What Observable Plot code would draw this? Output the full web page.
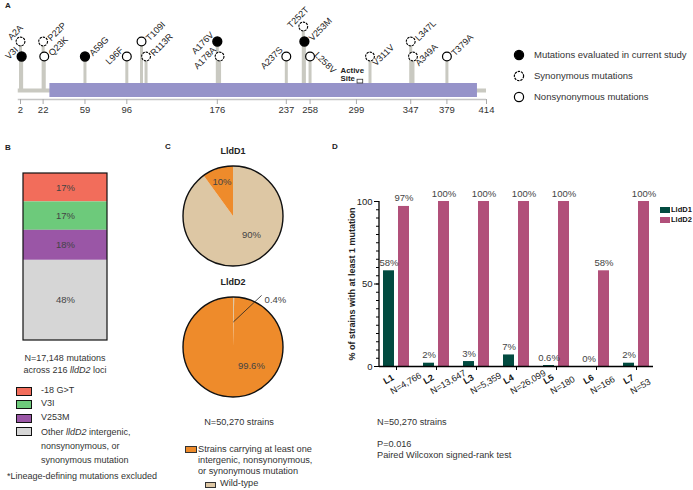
<!DOCTYPE html>
<html><head><meta charset="utf-8">
<script src="https://cdn.jsdelivr.net/npm/d3@7"></script>
<script src="https://cdn.jsdelivr.net/npm/@observablehq/plot@0.6"></script>
<style>
body{margin:0;background:#fff;}
#fig{position:relative;width:693px;height:490px;font-family:"Liberation Sans",Arial,sans-serif;color:#222;overflow:hidden;background:#fff;}
.layer{position:absolute;}
.t{position:absolute;white-space:nowrap;font-size:9px;line-height:1.25;}
</style></head><body><div id="fig"></div>
<script>
// ---------- Panel A data ----------
const mutLabels = ["A2A","V3I","P22P","Q23K","A59G","L96F","T109I","R113R","A176V","A178A","A237S","T252T","V253M","L258V","V311V","L347L","A349A","T379A"];
const mutPositions = [2,3,22,23,59,96,109,113,176,178,237,252,253,258,311,347,349,379];
const mutLevels = [2,1,2,1,1,1,2,1,2,1,1,3,2,1,1,2,1,1];
const mutTypes = ["syn","eval","syn","nonsyn","eval","nonsyn","nonsyn","syn","eval","syn","nonsyn","syn","eval","nonsyn","syn","syn","syn","nonsyn"];
const mutLabelSides = ["above","left","right","right","right","left","right","right","left","left","left","above","right","below","rightLow","right","rightLow","right"];
const axisTicksA = [2,22,59,96,176,237,258,299,347,379,414];
const proteinLength = 414;
const domainStart = 28, domainEnd = 406;
const activeSite = 302;
const legendALabels = ["Mutations evaluated in current study","Synonymous mutations","Nonsynonymous mutations"];

// ---------- Panel B data ----------
const bCategories = ["-18 G>T","V3I","V253M","Other"];
const bPercents = [17,17,18,48];

// ---------- Panel C data ----------
const pieGenes = ["LldD1","LldD2"];
const pieWildType = [90, 0.4];
const pieMutated = [10, 99.6];

// ---------- Panel D data ----------
const lineages = ["L1","L2","L3","L4","L5","L6","L7"];
const lineageN = [4766,13647,5359,26099,180,166,53];
const lldD1Pct = [58,2,3,7,0.6,0,2];
const lldD2Pct = [97,100,100,100,100,58,100];

// ---------- styles ----------
const FONT = '"Liberation Sans", Arial, sans-serif';
const bColors = ["#f26d5b","#6dca7b","#9a56a6","#d6d6d6"];
const pieColors = {wt:"#ddc7a4", mut:"#ee8b2b"};
const dColors = {LldD1:"#024b40", LldD2:"#b1507a"};
const stemColor = "#c9c9c1";

const fig = document.getElementById("fig");
function place(node, x, y){ const d=document.createElement("div"); d.className="layer"; d.style.left=x+"px"; d.style.top=y+"px"; d.appendChild(node); fig.appendChild(d); return d; }
function txt(x, y, html, o={}){
  const d=document.createElement("div"); d.className="t"; d.innerHTML=html;
  d.style.left=x+"px"; d.style.top=y+"px";
  const ax = o.align==="center"?"-50%":o.align==="right"?"-100%":"0";
  d.style.transform=`translate(${ax},-50%)`;
  if(o.size) d.style.fontSize=o.size+"px";
  if(o.bold) d.style.fontWeight="bold";
  if(o.color) d.style.color=o.color;
  if(o.align==="center") d.style.textAlign="center";
  fig.appendChild(d); return d;
}
const baseStyle = {fontFamily:FONT, fontSize:"9px", background:"transparent", overflow:"visible", color:"#222"};
const svgns = "http://www.w3.org/2000/svg";

// ================= Panel D =================
const dData = lineages.map((lin,i)=>({lin, n:lineageN[i], d1:lldD1Pct[i], d2:lldD2Pct[i]}));
const plotD = Plot.plot({
  width:693, height:490, marginLeft:379, marginRight:40, marginTop:201, marginBottom:124,
  style: baseStyle,
  x:{type:"band", domain:lineages, range:[376,656], padding:0},
  y:{domain:[0,100]},
  marks:[
    Plot.barY(dData, {x:"lin", y:"d1", fill:dColors.LldD1, insetLeft:7, insetRight:22}),
    Plot.barY(dData, {x:"lin", y:"d2", fill:dColors.LldD2, insetLeft:22, insetRight:7}),
    Plot.text(dData, {x:"lin", y:"d1", text:d=>d.d1+"%", dx:-7.5, dy:-8, fontSize:9.5, fill:"#444"}),
    Plot.text(dData, {x:"lin", y:"d2", text:d=>d.d2+"%", dx:7.5, dy:-8, fontSize:9.5, fill:"#444"}),
    Plot.axisY({ticks:d3.range(0,101,5), tickSize:3, tickFormat:()=>"", label:null, stroke:"black"}),
    Plot.axisY({ticks:[0,50,100], tickSize:5, tickPadding:2, fontSize:9.5, label:null, stroke:"black", fill:"#222"}),
    Plot.axisX({tickSize:4, tickFormat:()=>"", label:null, stroke:"black"}),
    Plot.ruleY([0], {stroke:"black", strokeWidth:1.3}),
    (index, {y}, values, dims) => {
      const l=document.createElementNS(svgns,"line");
      l.setAttribute("x1",dims.marginLeft); l.setAttribute("x2",dims.marginLeft);
      l.setAttribute("y1",y(0)); l.setAttribute("y2",y(100));
      l.setAttribute("stroke","black"); l.setAttribute("stroke-width","1.3");
      return l;
    },
    Plot.text(dData, {x:"lin", frameAnchor:"bottom", text:"lin", fontWeight:"bold", rotate:-30, textAnchor:"start", dx:-11, dy:18, fontSize:9, fill:"#111"}),
    Plot.text(dData, {x:"lin", frameAnchor:"bottom", text:d=>"N="+d3.format(",")(d.n), rotate:-30, textAnchor:"start", dx:-4, dy:28, fontSize:9, fill:"#222"}),
    Plot.text(["% of strains with at least 1 mutation"], {frameAnchor:"left", textAnchor:"middle", text:d=>d, rotate:-90, dx:-27, fontSize:9, fontWeight:"bold", fill:"#222"})
  ]
});
place(plotD, 0, 0);

// ================= Panel A =================
const muts = mutLabels.map((label,i)=>({label, pos:mutPositions[i], level:mutLevels[i], type:mutTypes[i], side:mutLabelSides[i]}));
const yMin = -28/15, baseLevel = -19/15, protTop = -0.8, protBot = -26/15;
const sideStyle = {
  left:{textAnchor:"end", rotate:-45, dx:-5, dy:-8},
  above:{textAnchor:"middle", rotate:-45, dx:-5, dy:-9},
  right:{textAnchor:"start", rotate:-45, dx:6, dy:-2},
  rightLow:{textAnchor:"start", rotate:-45, dx:4, dy:8},
  below:{textAnchor:"start", rotate:45, dx:6, dy:-3}
};
const plotA = Plot.plot({
  width:500, height:120, marginLeft:17.74, marginRight:14, marginTop:8, marginBottom:21,
  style: baseStyle,
  x:{domain:[0,proteinLength]},
  y:{domain:[yMin,4.2], axis:null},
  marks:[
    Plot.ruleY([yMin], {x1:0, x2:proteinLength, stroke:"#c4c4c4", strokeWidth:1.6}),
    Plot.axisX({ticks:axisTicksA, tickSize:5, tickPadding:2, fontSize:9.5, label:null, stroke:"#aaa", fill:"#333"}),
    Plot.ruleY([baseLevel], {x1:0, x2:proteinLength, stroke:stemColor, strokeWidth:4}),
    Plot.ruleX(muts, {x:"pos", y1:"level", y2:baseLevel, stroke:stemColor, strokeWidth:3}),
    Plot.rect([{}], {x1:domainStart, x2:domainEnd, y1:protTop, y2:protBot, fill:"#9693c9"}),
    Plot.rect([{}], {x1:activeSite-2, x2:activeSite+3, y1:-0.55, y2:protTop, fill:"white", stroke:"#333", strokeWidth:0.8}),
    Plot.text(["Active"], {x:activeSite-17, y:0.1, text:d=>d, textAnchor:"start", fontWeight:"bold", fontSize:7.8, fill:"#222"}),
    Plot.text(["Site"], {x:activeSite-17, y:-0.46, text:d=>d, textAnchor:"start", fontWeight:"bold", fontSize:7.8, fill:"#222"}),
    Plot.dot(muts.filter(d=>d.type==="eval"), {x:"pos", y:"level", r:4.4, fill:"black", stroke:"black"}),
    Plot.dot(muts.filter(d=>d.type==="nonsyn"), {x:"pos", y:"level", r:4.4, fill:"white", stroke:"black", strokeWidth:1.2}),
    Plot.dot(muts.filter(d=>d.type==="syn"), {x:"pos", y:"level", r:4.4, fill:"white", stroke:"black", strokeWidth:1.1, strokeDasharray:"2.4,0.9"}),
    ...Object.entries(sideStyle).map(([side,s]) => Plot.text(muts.filter(d=>d.side===side), {x:"pos", y:"level", text:"label", fontSize:9, fill:"#222", ...s}))
  ]
});
place(plotA, 0, 0);

// Legend A
const legA = document.createElementNS(svgns,"svg");
legA.setAttribute("width","14"); legA.setAttribute("height","60");
[0,1,2].forEach(i=>{
  const c=document.createElementNS(svgns,"circle");
  c.setAttribute("cx",7); c.setAttribute("cy",7+i*21); c.setAttribute("r",4.6);
  c.setAttribute("fill", i===0?"black":"white"); c.setAttribute("stroke","black"); c.setAttribute("stroke-width","1.2");
  if(i===1) c.setAttribute("stroke-dasharray","2.4,0.9");
  legA.appendChild(c);
});
place(legA, 512, 48);
legendALabels.forEach((s,i)=>txt(534, 55+i*21, s, {size:9.5, color:"#333"}));

// ================= Panel B =================
const bData = bCategories.map((cat,i)=>({cat, pct:bPercents[i]}));
const plotB = Plot.plot({
  width:130, height:350, style: baseStyle,
  x:{type:"band", domain:["all"], range:[23,107], padding:0, axis:null},
  y:{domain:[0,100], range:[173,340], axis:null},
  color:{domain:bCategories, range:bColors},
  marks:[
    Plot.barY(bData, Plot.stackY({x:()=>"all", y:"pct", fill:"cat"})),
    Plot.text(bData, Plot.stackY({x:()=>"all", y:"pct", text:d=>d.pct+"%", fontSize:9.5, fill:"#444"})),
    Plot.barY([{}], {x:()=>"all", y1:0, y2:100, fill:"none", stroke:"#111", strokeWidth:1.2})
  ]
});
place(plotB, 0, 0);
txt(65, 359, "N=17,148 mutations", {align:"center", size:9, color:"#333"});
txt(65, 371, "across 216 <i>lldD2</i> loci", {align:"center", size:9, color:"#333"});
const bLegendText = ["-18 G&gt;T","V3I","V253M","Other <i>lldD2</i> intergenic,<br>nonsynonymous, or<br>synonymous mutation"];
const bLegY = [391,404,418,431];
bCategories.forEach((c,i)=>{
  const sw=document.createElement("div");
  sw.style.cssText=`position:absolute;left:16px;top:${bLegY[i]-4}px;width:14px;height:7px;background:${bColors[i]};border:1.2px solid #111;`;
  fig.appendChild(sw);
  const t=txt(41, bLegY[i], bLegendText[i], {size:9, color:"#333"});
  if(i===3){ t.style.transform="translate(0,-6px)"; t.style.lineHeight="14px"; }
});
txt(7, 477, "*Lineage-defining mutations excluded", {size:9, color:"#333"});

// ================= Panel C =================
function pieMark(wt, mut){
  return (index, scales, values, dims) => {
    const g=document.createElementNS(svgns,"g");
    const cx=dims.width/2, cy=dims.height/2, R=Math.min(dims.width,dims.height)/2-5;
    g.setAttribute("transform",`translate(${cx},${cy})`);
    const slices=d3.pie().sort(null).value(d=>d.v)([{k:"wt",v:wt},{k:"mut",v:mut}]);
    const arc=d3.arc().innerRadius(0).outerRadius(R);
    slices.forEach(s=>{
      const p=document.createElementNS(svgns,"path");
      p.setAttribute("d",arc(s)); p.setAttribute("fill",pieColors[s.data.k]);
      g.appendChild(p);
    });
    const ring=document.createElementNS(svgns,"circle");
    ring.setAttribute("r",R); ring.setAttribute("fill","none"); ring.setAttribute("stroke","#111"); ring.setAttribute("stroke-width","1.4");
    g.appendChild(ring);
    slices.forEach(s=>{
      const frac=s.data.v/(wt+mut); const mid=(s.startAngle+s.endAngle)/2;
      let x,y,anchor="middle";
      if(frac<0.05){
        const x0=0.5*R*Math.sin(mid), y0=-0.5*R*Math.cos(mid);
        const a=29*Math.PI/180, x1=1.18*R*Math.sin(a), y1=-1.18*R*Math.cos(a);
        const ln=document.createElementNS(svgns,"line");
        ln.setAttribute("x1",x0); ln.setAttribute("y1",y0); ln.setAttribute("x2",x1); ln.setAttribute("y2",y1);
        ln.setAttribute("stroke","#222"); ln.setAttribute("stroke-width","0.8");
        g.appendChild(ln);
        x=x1+3; y=y1+4; anchor="start";
      } else if(frac>0.5){
        const a=135*Math.PI/180; x=0.52*R*Math.sin(a); y=-0.52*R*Math.cos(a);
      } else {
        x=0.72*R*Math.sin(mid); y=-0.72*R*Math.cos(mid);
      }
      const t=document.createElementNS(svgns,"text");
      t.setAttribute("x",x); t.setAttribute("y",y); t.setAttribute("text-anchor",anchor);
      t.setAttribute("dominant-baseline","central"); t.setAttribute("font-size","9.5"); t.setAttribute("fill","#444");
      t.textContent=s.data.v+"%";
      g.appendChild(t);
    });
    return g;
  };
}
const pieCenters = [[233,216],[233,347]];
pieGenes.forEach((gname,i)=>{
  const p = Plot.plot({width:110, height:110, style:baseStyle, marks:[pieMark(pieWildType[i], pieMutated[i])]});
  place(p, pieCenters[i][0]-55, pieCenters[i][1]-55);
  txt(pieCenters[i][0], pieCenters[i][1]-64, gname, {align:"center", bold:true, size:9, color:"#222"});
});
txt(239, 423, "N=50,270 strains", {align:"center", size:9.2, color:"#333"});
const sw1=document.createElement("div");
sw1.style.cssText="position:absolute;left:185px;top:446px;width:10px;height:5px;background:"+pieColors.mut+";border:1.2px solid #333;";
fig.appendChild(sw1);
const ct=txt(198, 460, "Strains carrying at least one<br>intergenic, nonsynonymous,<br>or synonymous mutation", {size:9.2, color:"#333"});
ct.style.lineHeight="11px";
const sw2=document.createElement("div");
sw2.style.cssText="position:absolute;left:205px;top:482px;width:9px;height:4px;background:"+pieColors.wt+";border:1.2px solid #333;";
fig.appendChild(sw2);
txt(220, 484, "Wild-type", {size:9.2, color:"#333"});

// D extra texts & legend
[["LldD1",210],["LldD2",220]].forEach(([k,y])=>{
  const s=document.createElement("div");
  s.style.cssText=`position:absolute;left:660px;top:${y-3}px;width:10px;height:6px;background:${dColors[k]};`;
  fig.appendChild(s);
  txt(671, y, k, {bold:true, size:7.5, color:"#111"});
});
txt(377, 423, "N=50,270 strains", {size:9.2, color:"#333"});
txt(377, 445, "P=0.016", {size:9.2, color:"#333"});
txt(377, 456, "Paired Wilcoxon signed-rank test", {size:9.2, color:"#333"});

// panel letters
txt(5, 6, "A", {bold:true, size:8});
txt(5, 148, "B", {bold:true, size:8});
txt(165, 147, "C", {bold:true, size:8});
txt(332, 147, "D", {bold:true, size:8});
</script></body></html>
